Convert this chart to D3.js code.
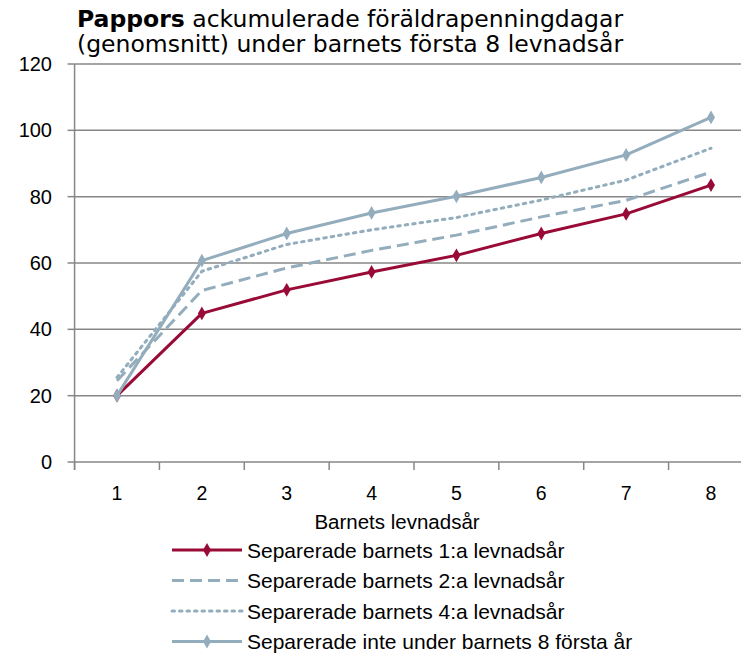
<!DOCTYPE html>
<html><head><meta charset="utf-8">
<script src="https://cdn.jsdelivr.net/npm/d3@7"></script>
<style>body{margin:0;background:#fff}svg{display:block}</style>
</head><body>
<svg id="c" width="741" height="654"></svg>
<script>
const categories = ["1","2","3","4","5","6","7","8"];
const yTicks = [0,20,40,60,80,100,120];
const seriesNames = ["Separerade barnets 1:a levnadsår","Separerade barnets 2:a levnadsår","Separerade barnets 4:a levnadsår","Separerade inte under barnets 8 första år"];
const sep1 = [20, 44.8, 51.9, 57.3, 62.3, 68.9, 74.8, 83.5];
const sep2 = [24.5, 51.7, 58.5, 63.8, 68.4, 73.9, 78.9, 87.4];
const sep4 = [25.5, 57.5, 65.6, 70.0, 73.7, 79.0, 85.0, 94.6];
const notSep = [20, 60.7, 68.9, 75.1, 80.1, 85.8, 92.6, 103.9];

const svg = d3.select("#c");
const x = d3.scalePoint().domain(categories).range([117, 711]);
const step = x.step();
const y = d3.scaleLinear().domain([0,120]).range([462, 64]);
const left = x(categories[0]) - step/2, right = 760;
const grid = "#878787";
const sans = "Liberation Sans, Arial, sans-serif";

svg.append("g").selectAll("line").data(yTicks).join("line")
  .attr("x1", left).attr("x2", right)
  .attr("y1", d=>y(d)).attr("y2", d=>y(d))
  .attr("stroke", grid).attr("stroke-width", 1.5);
svg.append("line").attr("x1",left).attr("x2",left).attr("y1",y(120)).attr("y2",y(0)+8)
  .attr("stroke",grid).attr("stroke-width",1.5);
svg.append("g").selectAll("line").data(yTicks).join("line")
  .attr("x1",left-7).attr("x2",left).attr("y1",d=>y(d)).attr("y2",d=>y(d))
  .attr("stroke",grid).attr("stroke-width",1.5);
svg.append("g").selectAll("text").data(yTicks).join("text")
  .attr("x",52).attr("y",d=>y(d)+7).attr("text-anchor","end")
  .attr("font-family",sans).attr("font-size",20).attr("fill","#000")
  .text(d=>d);
const xTickPos = d3.range(categories.length+1).map(i=>left+i*step);
svg.append("g").selectAll("line").data(xTickPos).join("line")
  .attr("x1",d=>d).attr("x2",d=>d).attr("y1",y(0)).attr("y2",y(0)+8)
  .attr("stroke",grid).attr("stroke-width",1.5);
svg.append("g").selectAll("text").data(categories).join("text")
  .attr("x",d=>x(d)).attr("y",500).attr("text-anchor","middle")
  .attr("font-family",sans).attr("font-size",19.5).attr("fill","#000")
  .text(d=>d);
svg.append("text").attr("x",397).attr("y",529).attr("text-anchor","middle")
  .attr("font-family",sans).attr("font-size",20.5).text("Barnets levnadsår");

const t = svg.append("text").attr("font-family","DejaVu Sans, Verdana, sans-serif").attr("font-size",23.5).attr("fill","#000");
const l1 = t.append("tspan").attr("x",77).attr("y",27);
l1.append("tspan").attr("font-weight","bold").text("Pappors");
l1.append("tspan").text(" ackumulerade föräldrapenningdagar");
t.append("tspan").attr("x",77).attr("y",52).text("(genomsnitt) under barnets första 8 levnadsår");

const red = "#990a36", blue = "#93adbd";
const styles = [
  {data: sep1, color: red, dash: null, marker: true, w: 3},
  {data: sep2, color: blue, dash: "12,6", marker: false, w: 3},
  {data: sep4, color: blue, dash: "2.5,5", marker: false, w: 3, cap:"round"},
  {data: notSep, color: blue, dash: null, marker: true, w: 3}
];
const line = d3.line().x((d,i)=>x(categories[i])).y(d=>y(d));
const diamond = d3.symbol().type(d3.symbolDiamond).size(55);
[1,2,0,3].forEach(k=>{
  const s = styles[k];
  svg.append("path").attr("d", line(s.data)).attr("fill","none")
    .attr("stroke", s.color).attr("stroke-width", s.w)
    .attr("stroke-dasharray", s.dash).attr("stroke-linecap", s.cap||"butt")
    .attr("stroke-linejoin","round");
  if (s.marker) {
    svg.append("g").selectAll("path").data(s.data).join("path")
      .attr("d", diamond).attr("fill", s.color)
      .attr("transform",(d,i)=>`translate(${x(categories[i])},${y(d)})`);
  }
});

const lg = svg.append("g");
seriesNames.forEach((name,i)=>{
  const s = styles[i];
  const yy = 550 + i*30.5;
  lg.append("line").attr("x1",172).attr("x2",242).attr("y1",yy).attr("y2",yy)
    .attr("stroke",s.color).attr("stroke-width",s.w).attr("stroke-dasharray",s.dash)
    .attr("stroke-linecap", s.cap||"butt");
  if (s.marker) lg.append("path").attr("d",diamond).attr("fill",s.color).attr("transform",`translate(207,${yy})`);
  lg.append("text").attr("x",247).attr("y",yy+7.5)
    .attr("font-family",sans).attr("font-size",21).text(name);
});
</script>
</body></html>
